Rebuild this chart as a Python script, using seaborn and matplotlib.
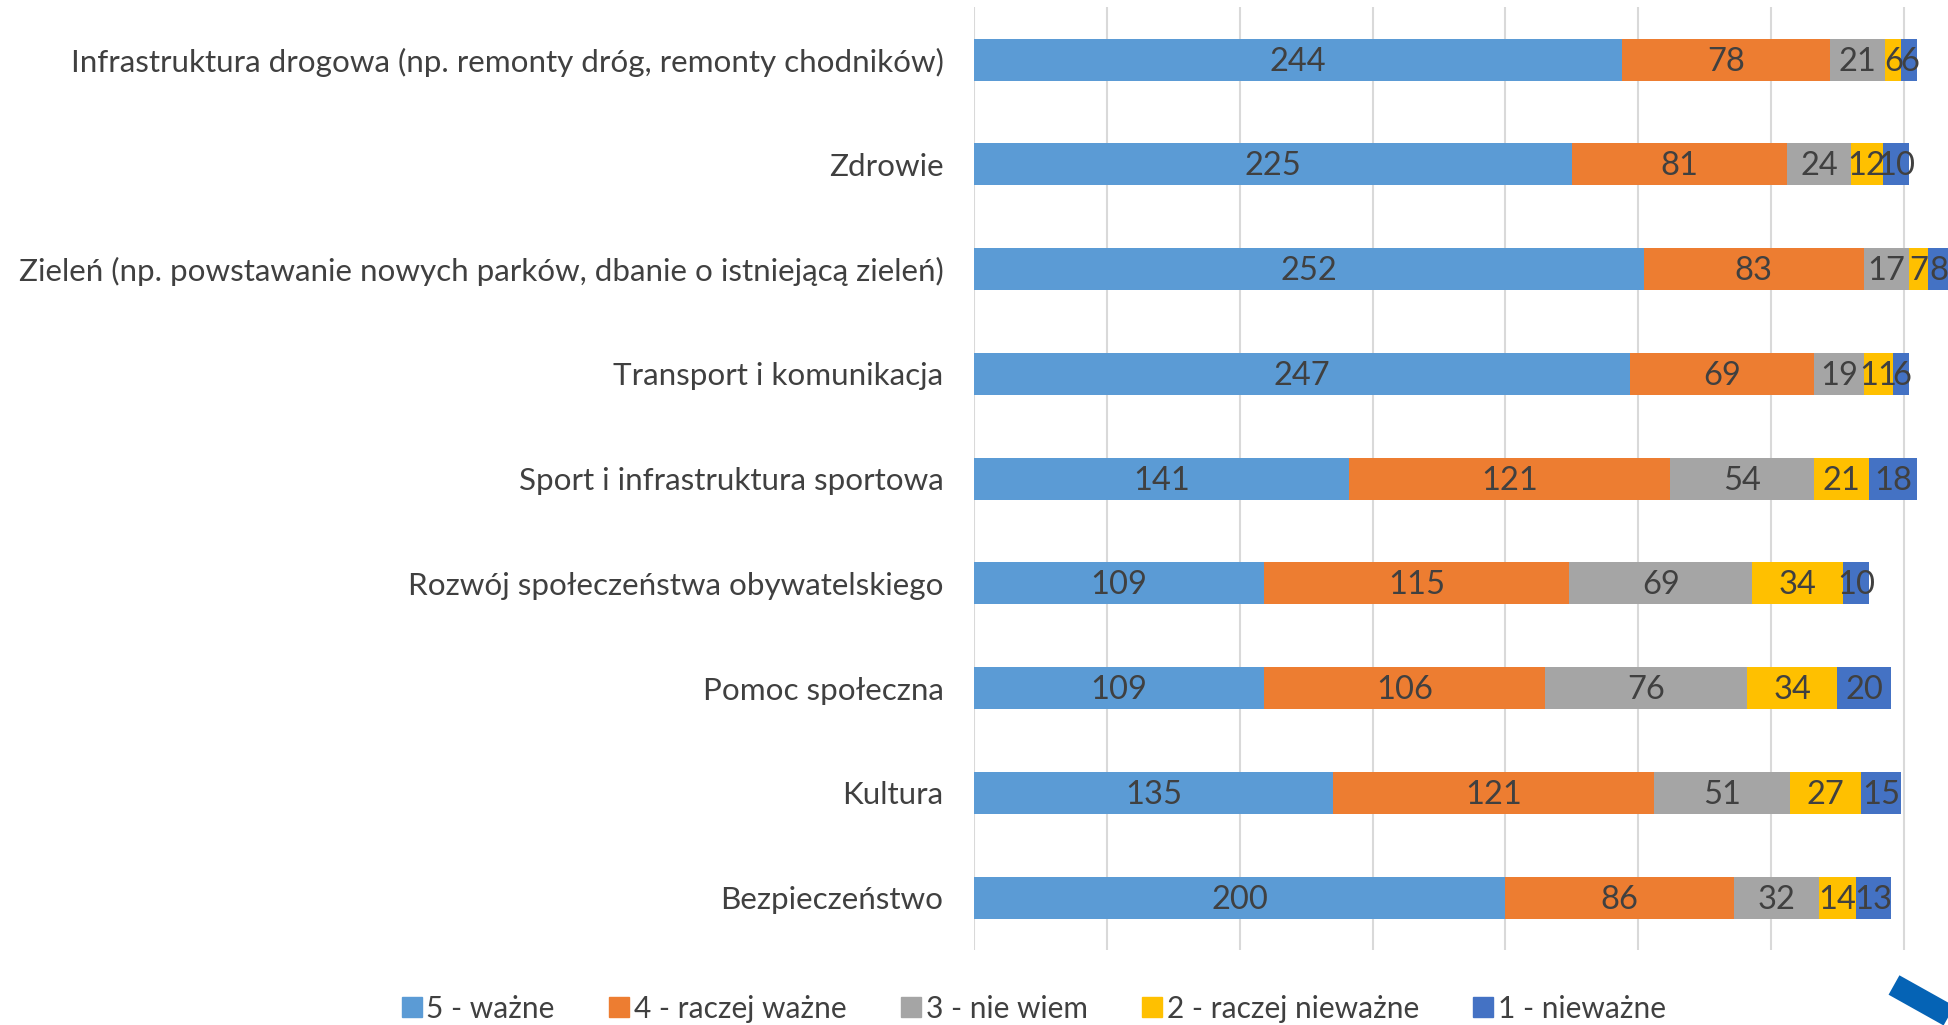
import numpy as np
import pandas as pd
import matplotlib
matplotlib.use("Agg")
from matplotlib import pyplot as plt
from matplotlib.lines import Line2D
import seaborn as sns

categories = [
    'Infrastruktura drogowa (np. remonty dróg, remonty chodników)',
    'Zdrowie',
    'Zieleń (np. powstawanie nowych parków, dbanie o istniejącą zieleń)',
    'Transport i komunikacja',
    'Sport i infrastruktura sportowa',
    'Rozwój społeczeństwa obywatelskiego',
    'Pomoc społeczna',
    'Kultura',
    'Bezpieczeństwo',
]
series_names = ['5 - ważne', '4 - raczej ważne', '3 - nie wiem',
                '2 - raczej nieważne', '1 - nieważne']
v5 = [244, 225, 252, 247, 141, 109, 109, 135, 200]
v4 = [78, 81, 83, 69, 121, 115, 106, 121, 86]
v3 = [21, 24, 17, 19, 54, 69, 76, 51, 32]
v2 = [6, 12, 7, 11, 21, 34, 34, 27, 14]
v1 = [6, 10, 8, 6, 18, 10, 20, 15, 13]
colors = ['#5B9BD5', '#ED7D31', '#A5A5A5', '#FFC000', '#4472C4']

sns.set_theme(style='white')
plt.rcParams['font.family'] = ['Lato', 'DejaVu Sans']

df = pd.DataFrame({'cat': categories})
values = [v5, v4, v3, v2, v1]
for name, v in zip(series_names, values):
    df[name] = v
cum = df[series_names].cumsum(axis=1)

fig = plt.figure(figsize=(19.48, 10.25), dpi=100)
ax = fig.add_axes([0.5, 0.0732, 0.5, 0.9198])

# draw cumulative bars back to front so segments stack
for name, col in reversed(list(zip(series_names, colors))):
    sns.barplot(ax=ax, x=cum[name], y=df['cat'], orient='h', color=col,
                width=0.4, linewidth=0, saturation=1, zorder=3)

for i, name in enumerate(series_names):
    centers = cum[name] - df[name] / 2
    for y, (xc, val) in enumerate(zip(centers, df[name])):
        ax.text(xc, y + 0.02, str(val), ha='center', va='center', fontsize=23.5,
                color='#404040', zorder=5)

ax.set_xlim(0, 366.6)
ax.set_ylim(8.5, -0.5)
ax.set_xticks(np.arange(0, 351, 50))
ax.set_xticklabels([])
ax.tick_params(axis='x', length=0)
ax.tick_params(axis='y', length=0, pad=22, labelsize=22.6, labelcolor='#404040')
ax.set_xlabel('')
ax.set_ylabel('')
ax.grid(axis='x', color='#D9D9D9', linewidth=1.5, zorder=0)
for s in ax.spines.values():
    s.set_visible(False)

handles = [Line2D([0], [0], marker='s', linestyle='', markersize=14,
                  markerfacecolor=c, markeredgecolor=c) for c in colors]
fig.legend(handles, series_names, loc='center', bbox_to_anchor=(0.531, 0.016),
           ncol=5, frameon=False, fontsize=21.5, handlelength=0.6,
           handletextpad=0.2, columnspacing=1.85, labelcolor='#404040')

# blue decorative stripe in the bottom right corner
fig.add_artist(Line2D([1894 / 1948, 1.02], [1 - 985 / 1025, 1 - 1037 / 1025],
                      transform=fig.transFigure, color='#0563B5', linewidth=16,
                      solid_capstyle='butt'))

fig.savefig('out.png', dpi=100)
